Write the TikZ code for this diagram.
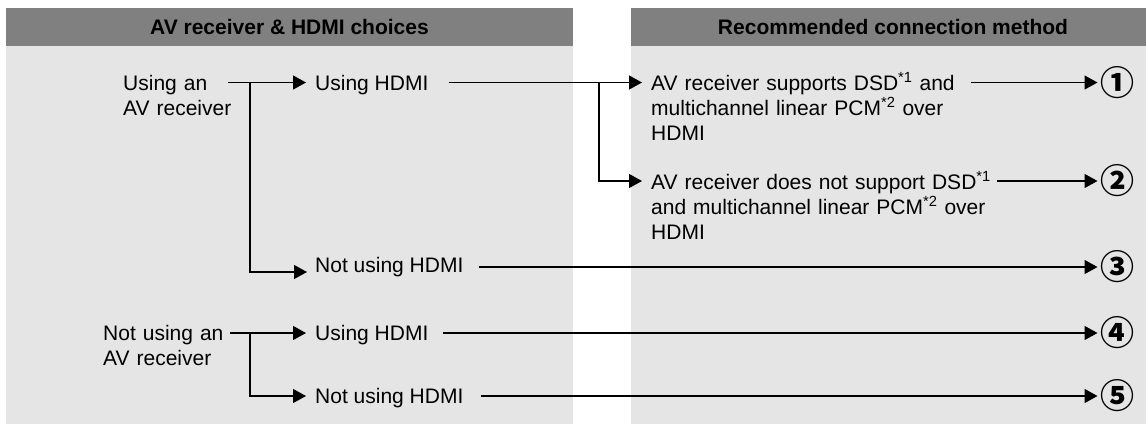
\documentclass[tikz,border=0pt]{standalone}
\usepackage{fontspec}
\setmainfont{Liberation Sans}
\newfontfamily\cjkfont{Noto Sans CJK JP}
\usetikzlibrary{arrows.meta,calc}
\definecolor{hdrgray}{HTML}{808080}
\definecolor{bodygray}{HTML}{E5E5E5}
\begin{document}
\begin{tikzpicture}[x=1pt,y=-1pt,
  txt/.style={inner sep=0pt, anchor=base west, font=\fontsize{21}{25}\selectfont},
  mtxt/.style={txt, text width=#1, align=left},
  num/.style={inner sep=0pt, font=\cjkfont\bfseries\fontsize{34}{34}\selectfont},
  hdr/.style={inner sep=0pt, font=\bfseries\fontsize{21}{25}\selectfont},
  con/.style={line width=1.3pt, draw=black},
  arr/.style={con, -{Triangle[length=13pt,width=14pt]}},
]
\useasboundingbox (0,0) rectangle (1146,424);
% panels
\fill[bodygray] (6,46) rectangle (573,424);
\fill[hdrgray] (6,8) rectangle (573,46);
\fill[bodygray] (631,46) rectangle (1146,424);
\fill[hdrgray] (631,8) rectangle (1146,46);
\node[hdr] (h1) at (289.5,27) {AV receiver \& HDMI choices};
\node[hdr] (h2) at (893,27) {Recommended connection method};
% texts
\node[mtxt=140pt] (a1) at (123,90) {Using an\\AV receiver};
\node[txt] (u1) at (315,90) {Using HDMI};
\node[mtxt=380pt] (r1) at (651,90) {AV receiver supports DSD\textsuperscript{*1} and\\multichannel linear PCM\textsuperscript{*2} over\\HDMI};
\node[mtxt=380pt] (r2) at (651,189) {AV receiver does not support DSD\textsuperscript{*1}\\and multichannel linear PCM\textsuperscript{*2} over\\HDMI};
\node[txt] (n1) at (315,272) {Not using HDMI};
\node[mtxt=160pt] (a2) at (103,340) {Not using an\\AV receiver};
\node[txt] (u2) at (315,340) {Using HDMI};
\node[txt] (n2) at (315,403) {Not using HDMI};
% circled numbers
\node[num] (c1) at (1117.5,82.5) {①};
\node[num] (c2) at (1117.5,181) {②};
\node[num] (c3) at (1117.5,267) {③};
\node[num] (c4) at (1117.5,333) {④};
\node[num] (c5) at (1117.5,396) {⑤};
% branch points
\coordinate (b1) at (250,82.5);
\coordinate (b2) at (599,82.5);
\coordinate (b3) at (250,333);
% connectors
\draw[arr] ($(a1.base west)+(105,-7.5)$) -- ($(u1.base west)+(-9,-7.5)$);
\draw[arr] (b1) |- ($(n1.base west)+(-8,0)$);
\draw[arr] ($(u1.base east)+(20,-7.5)$) -- ($(r1.base west)+(-9,-7.5)$);
\draw[arr] (b2) |- ($(r2.base west)+(-9,-8)$);
\draw[arr] ($(r1.base west)+(320,-7.5)$) -- ($(c1.center)+(-20,0)$);
\draw[arr] ($(r2.base west)+(346,-8)$) -- ($(c2.center)+(-20,0)$);
\draw[arr] ($(n1.base east)+(15,-5)$) -- ($(c3.center)+(-20,0)$);
\draw[arr] ($(a2.base west)+(127,-7)$) -- ($(u2.base west)+(-9,-7)$);
\draw[arr] (b3) |- ($(n2.base west)+(-9,-7)$);
\draw[arr] ($(u2.base east)+(14,-7)$) -- ($(c4.center)+(-20,0)$);
\draw[arr] ($(n2.base east)+(17,-7)$) -- ($(c5.center)+(-20,0)$);
\end{tikzpicture}
\end{document}
